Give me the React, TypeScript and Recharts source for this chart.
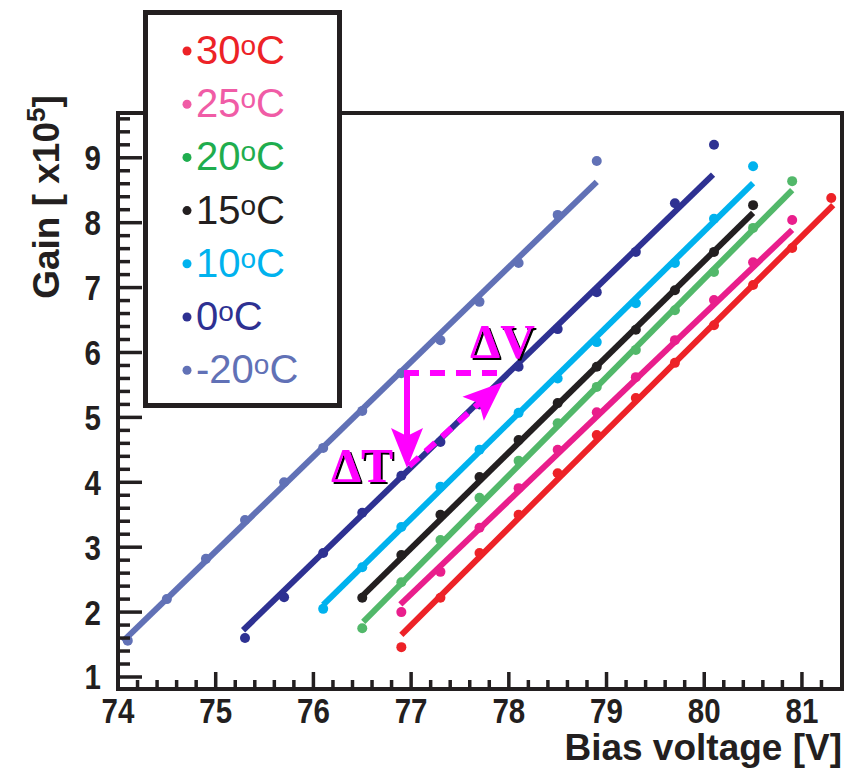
import React from 'react';
import {
  ScatterChart,
  Scatter,
  XAxis,
  YAxis,
  ReferenceArea,
  ReferenceLine,
  ReferenceDot,
} from 'recharts';

const INK = '#231f20';
const MAGENTA = '#ff00ff';
const SANS = "'Liberation Sans', Arial, Helvetica, sans-serif";
const SERIF = "'Liberation Serif', 'Times New Roman', serif";

// ---- data (bias voltage [V], gain [x10^5]) ----
const V_30 = [76.9, 77.3, 77.7, 78.1, 78.5, 78.9, 79.3, 79.7, 80.1, 80.5, 80.9, 81.3];
const G_30 = [1.46, 2.22, 2.91, 3.5, 4.14, 4.73, 5.3, 5.84, 6.42, 7.04, 7.61, 8.38];
const V_25 = [76.9, 77.3, 77.7, 78.1, 78.5, 78.9, 79.3, 79.7, 80.1, 80.5, 80.9];
const G_25 = [2.0, 2.62, 3.3, 3.91, 4.5, 5.08, 5.62, 6.19, 6.81, 7.39, 8.04];
const V_20 = [76.5, 76.9, 77.3, 77.7, 78.1, 78.5, 78.9, 79.3, 79.7, 80.1, 80.5, 80.9];
const G_20 = [1.75, 2.46, 3.11, 3.76, 4.33, 4.91, 5.47, 6.04, 6.65, 7.24, 7.92, 8.64];
const V_15 = [76.5, 76.9, 77.3, 77.7, 78.1, 78.5, 78.9, 79.3, 79.7, 80.1, 80.5];
const G_15 = [2.22, 2.88, 3.5, 4.08, 4.65, 5.22, 5.78, 6.35, 6.96, 7.55, 8.27];
const V_10 = [76.1, 76.5, 76.9, 77.3, 77.7, 78.1, 78.5, 78.9, 79.3, 79.7, 80.1, 80.5];
const G_10 = [2.05, 2.69, 3.31, 3.93, 4.5, 5.07, 5.6, 6.16, 6.76, 7.38, 8.06, 8.87];
const V_0 = [75.3, 75.7, 76.1, 76.5, 76.9, 77.3, 77.7, 78.1, 78.5, 78.9, 79.3, 79.7, 80.1];
const G_0 = [1.6, 2.23, 2.91, 3.53, 4.1, 4.62, 5.2, 5.78, 6.36, 6.93, 7.55, 8.3, 9.2];
const V_M20 = [74.1, 74.5, 74.9, 75.3, 75.7, 76.1, 76.5, 76.9, 77.3, 77.7, 78.1, 78.5, 78.9];
const G_M20 = [1.56, 2.2, 2.82, 3.42, 4.0, 4.53, 5.1, 5.68, 6.19, 6.78, 7.38, 8.12, 8.95];

// linear fit lines: [start, end]
const FIT_V_30 = [76.9, 81.32];
const FIT_G_30 = [1.65, 8.27];
const FIT_V_25 = [76.89, 80.9];
const FIT_G_25 = [2.12, 7.89];
const FIT_V_20 = [76.51, 80.9];
const FIT_G_20 = [1.85, 8.5];
const FIT_V_15 = [76.51, 80.5];
const FIT_G_15 = [2.26, 8.15];
const FIT_V_10 = [76.1, 80.5];
const FIT_G_10 = [2.11, 8.61];
const FIT_V_0 = [75.28, 80.09];
const FIT_G_0 = [1.72, 8.74];
const FIT_V_M20 = [74.05, 78.9];
const FIT_G_M20 = [1.55, 8.63];

const TEMPS = ['30', '25', '20', '15', '10', '0', '-20'];

// tick labels
const X_MAJOR = [74, 75, 76, 77, 78, 79, 80, 81];
const Y_MAJOR = [1, 2, 3, 4, 5, 6, 7, 8, 9];
const X_TICKS = Array.from({ length: 37 }, (_, i) => Math.round((74 + i * 0.2) * 10) / 10);
const Y_TICKS = Array.from({ length: 44 }, (_, i) => Math.round((1 + i * 0.2) * 10) / 10);

const X_DOMAIN: [number, number] = [74, 81.41];
const Y_DOMAIN: [number, number] = [0.815, 9.69];

const zip = (v: number[], g: number[]) => v.map((x, i) => ({ v: x, g: g[i] }));

const SERIES = [
  { temp: TEMPS[0], color: '#ed2227', legendColor: '#ed2227', pts: zip(V_30, G_30), fit: zip(FIT_V_30, FIT_G_30) },
  { temp: TEMPS[1], color: '#e91e8c', legendColor: '#f05ca6', pts: zip(V_25, G_25), fit: zip(FIT_V_25, FIT_G_25) },
  { temp: TEMPS[2], color: '#52b86a', legendColor: '#1fad4e', pts: zip(V_20, G_20), fit: zip(FIT_V_20, FIT_G_20) },
  { temp: TEMPS[3], color: '#231f20', legendColor: '#231f20', pts: zip(V_15, G_15), fit: zip(FIT_V_15, FIT_G_15) },
  { temp: TEMPS[4], color: '#00b2ee', legendColor: '#00b2ee', pts: zip(V_10, G_10), fit: zip(FIT_V_10, FIT_G_10) },
  { temp: TEMPS[5], color: '#2e3192', legendColor: '#2e3192', pts: zip(V_0, G_0), fit: zip(FIT_V_0, FIT_G_0) },
  { temp: TEMPS[6], color: '#6171b6', legendColor: '#6171b6', pts: zip(V_M20, G_M20), fit: zip(FIT_V_M20, FIT_G_M20) },
];

const isMajor = (v: number) => Math.abs(v - Math.round(v)) < 1e-6;

const XTick = (p: any) => {
  const { x, y, payload } = p;
  const v = payload.value;
  const major = isMajor(v) && X_MAJOR.includes(Math.round(v));
  return (
    <g>
      <line x1={x} x2={x} y1={y} y2={y - (major ? 17 : 9)} stroke={INK} strokeWidth={3.5} />
      {major && (
        <text
          transform={`translate(${x},${y + 34}) scale(0.82,1)`}
          textAnchor="middle"
          fontFamily={SANS}
          fontWeight="bold"
          fontSize={36}
          fill={INK}
        >
          {Math.round(v)}
        </text>
      )}
    </g>
  );
};

const YTick = (p: any) => {
  const { x, y, payload } = p;
  const v = payload.value;
  const major = isMajor(v) && Y_MAJOR.includes(Math.round(v));
  return (
    <g>
      <line x1={x} x2={x + (major ? 24 : 12)} y1={y} y2={y} stroke={INK} strokeWidth={3.5} />
      {major && (
        <text
          transform={`translate(${x - 17},${y + 12.5}) scale(0.82,1)`}
          textAnchor="end"
          fontFamily={SANS}
          fontWeight="bold"
          fontSize={36}
          fill={INK}
        >
          {Math.round(v)}
        </text>
      )}
    </g>
  );
};

const XTitle = (p: any) => {
  const vb = p.viewBox || { x: 118, y: 689, width: 724, height: 79 };
  return (
    <text x={vb.x + vb.width} y={vb.y + 71} textAnchor="end" fontFamily={SANS} fontWeight="bold" fontSize={37} fill={INK}>
      Bias voltage [V]
    </text>
  );
};

const YTitle = (p: any) => {
  const vb = p.viewBox || { x: 0, y: 113, width: 118, height: 576 };
  const cx = vb.x + 59;
  const cy = vb.y + 84;
  return (
    <text
      transform={`translate(${cx},${cy}) rotate(-90)`}
      textAnchor="middle"
      fontFamily={SANS}
      fontWeight="bold"
      fontSize={37}
      fill={INK}
    >
      Gain [ x10
      <tspan fontSize={26} dy={-14}>5</tspan>
      <tspan fontSize={37} dy={14}>]</tspan>
    </text>
  );
};

const makeArrow = (dashed: boolean, dash: string) => (p: any) => {
  const { x1, y1, x2, y2 } = p;
  const dx = x2 - x1;
  const dy = y2 - y1;
  const len = Math.hypot(dx, dy) || 1;
  const ux = dx / len;
  const uy = dy / len;
  const nx = -uy;
  const ny = ux;
  const L = 40;
  const W = 16;
  const bx = x2 - ux * L;
  const by = y2 - uy * L;
  const kx = x2 - ux * L * 0.8;
  const ky = y2 - uy * L * 0.8;
  const ex = x2 - ux * L * 0.7;
  const ey = y2 - uy * L * 0.7;
  return (
    <g>
      <line
        x1={x1}
        y1={y1}
        x2={ex}
        y2={ey}
        stroke={MAGENTA}
        strokeWidth={6}
        strokeDasharray={dashed ? dash : undefined}
      />
      <polygon
        points={`${x2},${y2} ${bx + nx * W},${by + ny * W} ${kx},${ky} ${bx - nx * W},${by - ny * W}`}
        fill={MAGENTA}
      />
    </g>
  );
};

const dashedLine = (p: any) => (
  <line x1={p.x1} y1={p.y1} x2={p.x2} y2={p.y2} stroke={MAGENTA} strokeWidth={6} strokeDasharray="15 11" />
);

const deltaText = (txt: string, anchor: 'start' | 'end', id: string) => (p: any) => (
  <g>
    <defs>
      <filter id={id} x="-20%" y="-20%" width="140%" height="140%">
        <feDropShadow dx={2} dy={2} stdDeviation={0} floodColor="#000" floodOpacity={1} />
      </filter>
    </defs>
    <text
      x={p.cx}
      y={p.cy}
      textAnchor={anchor}
      fontFamily={SERIF}
      fontWeight="bold"
      fontSize={48}
      fill={MAGENTA}
      filter={`url(#${id})`}
    >
      {txt}
    </text>
  </g>
);

const LegendBox = () => (
  <div style={{ position: 'absolute', left: 143, top: 10, width: 199, height: 398 }}>
    <svg width={199} height={398} style={{ display: 'block' }}>
      <rect x={2.5} y={2.5} width={194} height={393} fill="#fff" stroke={INK} strokeWidth={5} />
      {SERIES.map((s, i) => {
        const by = 54 + i * 53.2;
        return (
          <g key={s.temp}>
            <circle cx={44} cy={by - 13} r={4.5} fill={s.legendColor} />
            <text x={53} y={by} fontFamily={SANS} fontSize={40} fill={s.legendColor}>
              {s.temp}
              <tspan fontSize={28} dy={-9}>o</tspan>
              <tspan fontSize={40} dy={9}>C</tspan>
            </text>
          </g>
        );
      })}
    </svg>
  </div>
);

export default function App() {
  return (
    <div style={{ position: 'absolute', left: 0, top: 0, width: 846, height: 768, background: '#fff' }}>
      <ScatterChart width={846} height={768} margin={{ top: 113, right: 4, bottom: 0, left: 0 }}>
        <XAxis
          type="number"
          dataKey="v"
          domain={X_DOMAIN}
          allowDataOverflow
          ticks={X_TICKS}
          interval={0}
          tick={XTick}
          tickLine={false}
          axisLine={false}
          tickSize={0}
          tickMargin={0}
          height={79}
          label={XTitle}
        />
        <YAxis
          type="number"
          dataKey="g"
          domain={Y_DOMAIN}
          allowDataOverflow
          ticks={Y_TICKS}
          interval={0}
          tick={YTick}
          tickLine={false}
          axisLine={false}
          tickSize={0}
          tickMargin={0}
          width={118}
          label={YTitle}
        />
        <ReferenceArea
          x1={X_DOMAIN[0]}
          x2={X_DOMAIN[1]}
          y1={Y_DOMAIN[0]}
          y2={Y_DOMAIN[1]}
          fill="none"
          fillOpacity={0}
          stroke={INK}
          strokeWidth={4}
          ifOverflow="visible"
        />
        {SERIES.map((s) => (
          <Scatter
            key={'fit' + s.temp}
            data={s.fit}
            line={{ stroke: s.color, strokeWidth: 6 }}
            lineType="joint"
            shape={() => <g />}
            isAnimationActive={false}
          />
        ))}
        {SERIES.map((s) => (
          <Scatter
            key={'pts' + s.temp}
            data={s.pts}
            fill={s.color}
            shape={(p: any) => <circle cx={p.cx} cy={p.cy} r={5} fill={s.color} />}
            isAnimationActive={false}
          />
        ))}
        <ReferenceLine
          segment={[{ x: 76.927, y: 5.684 }, { x: 77.889, y: 5.684 }]}
          ifOverflow="visible"
          shape={dashedLine}
          zIndex={2500}
        />
        <ReferenceLine
          segment={[{ x: 76.958, y: 5.684 }, { x: 76.958, y: 4.22 }]}
          ifOverflow="visible"
          shape={makeArrow(false, '')}
          zIndex={2500}
        />
        <ReferenceLine
          segment={[{ x: 76.98, y: 4.25 }, { x: 77.94, y: 5.545 }]}
          ifOverflow="visible"
          shape={makeArrow(true, '13 9')}
          zIndex={2500}
        />
        <ReferenceDot
          x={76.815}
          y={4.005}
          r={0}
          ifOverflow="visible"
          shape={deltaText('\u0394T', 'end', 'shT')}
          zIndex={2500}
        />
        <ReferenceDot
          x={77.603}
          y={5.915}
          r={0}
          ifOverflow="visible"
          shape={deltaText('\u0394V', 'start', 'shV')}
          zIndex={2500}
        />
      </ScatterChart>
      <LegendBox />
    </div>
  );
}
